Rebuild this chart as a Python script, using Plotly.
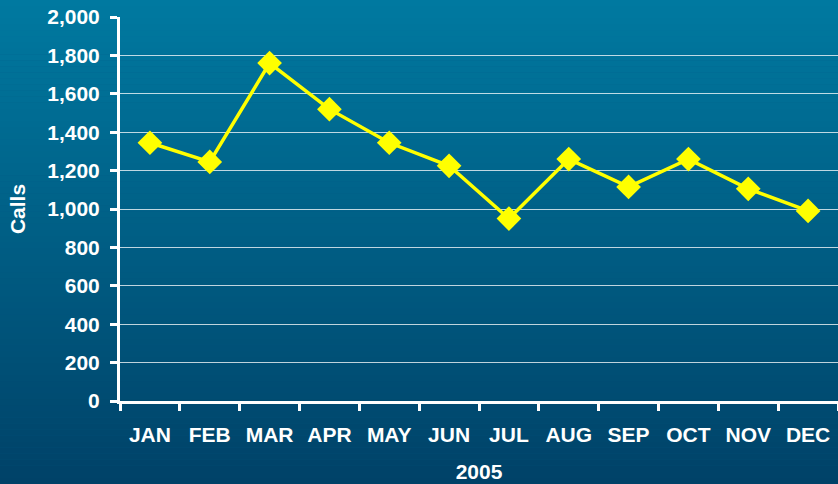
import plotly.graph_objects as go

months = ["JAN", "FEB", "MAR", "APR", "MAY", "JUN", "JUL", "AUG", "SEP", "OCT", "NOV", "DEC"]
calls = [1345, 1245, 1760, 1520, 1345, 1225, 950, 1260, 1115, 1260, 1105, 990]
y_ticks = [0, 200, 400, 600, 800, 1000, 1200, 1400, 1600, 1800, 2000]

W, H = 838, 484
ml, mr, mt, mb = 120, 0, 17, 83
ph = H - mt - mb
pw = W - ml - mr

fig = go.Figure()
fig.add_trace(go.Scatter(
    x=months, y=calls, mode="lines+markers",
    line=dict(color="#FFFF00", width=3.5),
    marker=dict(symbol="diamond", size=19, color="#FFFF00"),
    showlegend=False,
))

# vertical gradient background
top = (0, 121, 160)
bot = (0, 66, 104)
n = 80
y0p = -mb / ph
y1p = 1 + mt / ph
shapes = []
for i in range(n):
    t = i / (n - 1)
    c = tuple(round(bot[k] + (top[k] - bot[k]) * t) for k in range(3))
    ya = y0p + (y1p - y0p) * i / n
    yb = y0p + (y1p - y0p) * (i + 1.05) / n
    shapes.append(dict(type="rect", xref="paper", yref="paper",
                       x0=-ml / pw - 0.01, x1=1.01, y0=ya, y1=yb,
                       fillcolor="rgb(%d,%d,%d)" % c, line=dict(width=0), layer="below"))

fam = "Liberation Sans, Arial, sans-serif"
font = dict(family=fam, color="white", size=21, weight="bold")

fig.update_layout(
    width=W, height=H,
    margin=dict(l=ml, r=mr, t=mt, b=mb),
    paper_bgcolor="rgb(0,90,130)",
    plot_bgcolor="rgba(0,0,0,0)",
    shapes=shapes,
    font=font,
    xaxis=dict(
        type="category", tickson="boundaries",
        ticks="outside", ticklen=7, tickwidth=3, tickcolor="white",
        showline=True, linecolor="white", linewidth=3,
        showgrid=False, range=[-0.5, 11.5],
        tickfont=font, ticklabelstandoff=13,
        title=dict(text="2005", font=font, standoff=20),
    ),
    yaxis=dict(
        range=[0, 2000], tickvals=y_ticks, tickformat=",d",
        ticks="outside", ticklen=7, tickwidth=3, tickcolor="white",
        showline=True, linecolor="white", linewidth=3,
        showgrid=True, gridcolor="rgba(255,255,255,0.75)", gridwidth=1,
        zeroline=False, tickfont=font, ticklabelstandoff=6,
        title=dict(text="Calls", font=font, standoff=16),
    ),
)

fig.write_html("out.html", config={"displayModeBar": False},
               post_script="document.body.style.margin='0';document.body.style.padding='0';")
